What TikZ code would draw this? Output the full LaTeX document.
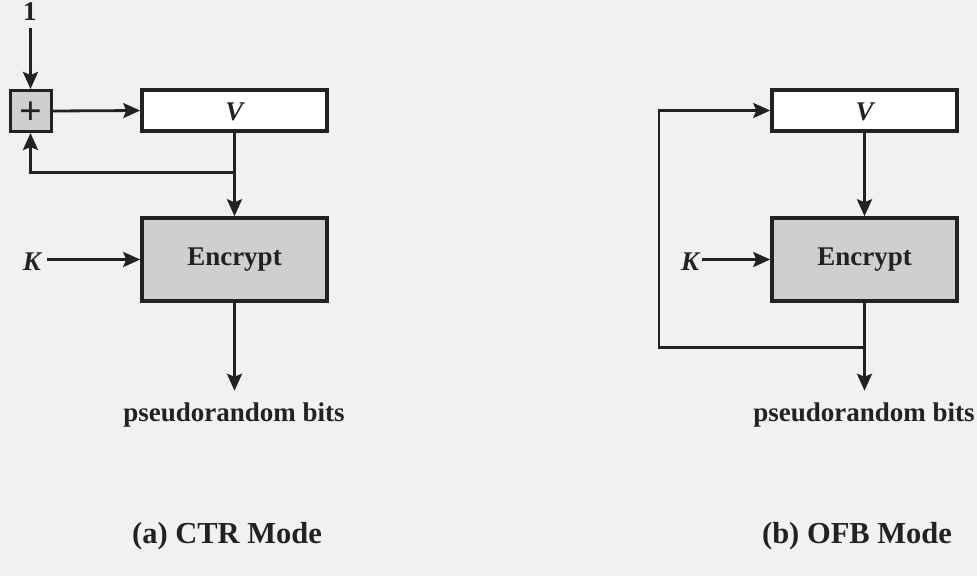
\documentclass[tikz,border=0pt]{standalone}
\usepackage{fontspec}
\setmainfont{Liberation Serif}
\usetikzlibrary{arrows.meta}
\definecolor{bg}{HTML}{F1F1F3}
\definecolor{boxgray}{HTML}{CFCFCF}
\definecolor{ink}{HTML}{222222}
\tikzset{
  line/.style={draw=ink, line width=2.8pt},
  arr/.style={line, -{Stealth[length=17pt,width=15pt,inset=3pt]}},
  wbox/.style={draw=ink, line width=3.5pt, fill=white, minimum width=185pt, minimum height=41pt, inner sep=0pt},
  gbox/.style={draw=ink, line width=3.5pt, fill=boxgray, minimum width=185pt, minimum height=83pt, inner sep=0pt},
  pbox/.style={draw=ink, line width=3pt, fill=boxgray, minimum width=41pt, minimum height=41pt, inner sep=0pt},
  txt/.style={font=\fontsize{27}{30}\selectfont\bfseries, text=ink, inner sep=0pt},
  captxt/.style={font=\fontsize{30.5}{34}\selectfont\bfseries, text=ink, inner sep=0pt},
}
\begin{document}
\begin{tikzpicture}[x=1pt,y=-1pt]
\fill[bg] (0,0) rectangle (977,576);
\useasboundingbox (0,0) rectangle (977,576);
% ---- (a) CTR ----
\node[txt] (one) at (30,12) {1};
\node[pbox] (plus) at (30.5,111) {};
\node[text=ink, inner sep=0pt, font=\fontsize{40}{40}\selectfont\bfseries] at ([yshift=-2.5pt]plus.center) {+};
\node[wbox] (va) at (234.5,110.5) {};
\node[txt] at ([yshift=-1pt]va.center) {\itshape V};
\node[gbox] (ea) at (234.5,259.5) {};
\node[txt] at (ea.center) {Encrypt};
\node[txt, anchor=base] (ka) at (32,270) {\itshape K};
\node[txt, anchor=base] (pa) at (234,421) {pseudorandom bits};
\node[captxt, anchor=base] (capa) at (227,543) {(a) CTR Mode};
\coordinate (oneb) at (30.5,28);
\coordinate (bra) at ([yshift=-40pt]va.south);
\coordinate (brl) at (bra -| plus.south);
\coordinate (outa) at ([yshift=-88pt]ea.south);
\draw[arr] (oneb) -- (plus.north);
\draw[arr] (plus.east) -- (va.west);
\draw[arr] (va.south) -- (ea.north);
\draw[arr] (bra) -- (brl) -- (plus.south);
\draw[arr] (ka.east |- ea.west) ++(6,0) -- (ea.west);
\draw[arr] (ea.south) -- (outa);
% ---- (b) OFB ----
\node[wbox] (vb) at (864.5,110.5) {};
\node[txt] at ([yshift=-1pt]vb.center) {\itshape V};
\node[gbox] (eb) at (864.5,259.5) {};
\node[txt] at (eb.center) {Encrypt};
\node[txt, anchor=base] (kb) at (690,270) {\itshape K};
\node[txt, anchor=base] (pb) at (864,421) {pseudorandom bits};
\node[captxt, anchor=base] (capb) at (857,543) {(b) OFB Mode};
\coordinate (brb) at ([yshift=-45pt]eb.south);
\coordinate (bll) at ([xshift=-205.5pt]brb);
\coordinate (outb) at ([yshift=-88pt]eb.south);
\draw[arr] (vb.south) -- (eb.north);
\draw[arr] (kb.east |- eb.west) ++(3,0) -- (eb.west);
\draw[arr] (eb.south) -- (outb);
\draw[arr] (brb) -- (bll) -- (bll |- vb.west) -- (vb.west);
\end{tikzpicture}
\end{document}
